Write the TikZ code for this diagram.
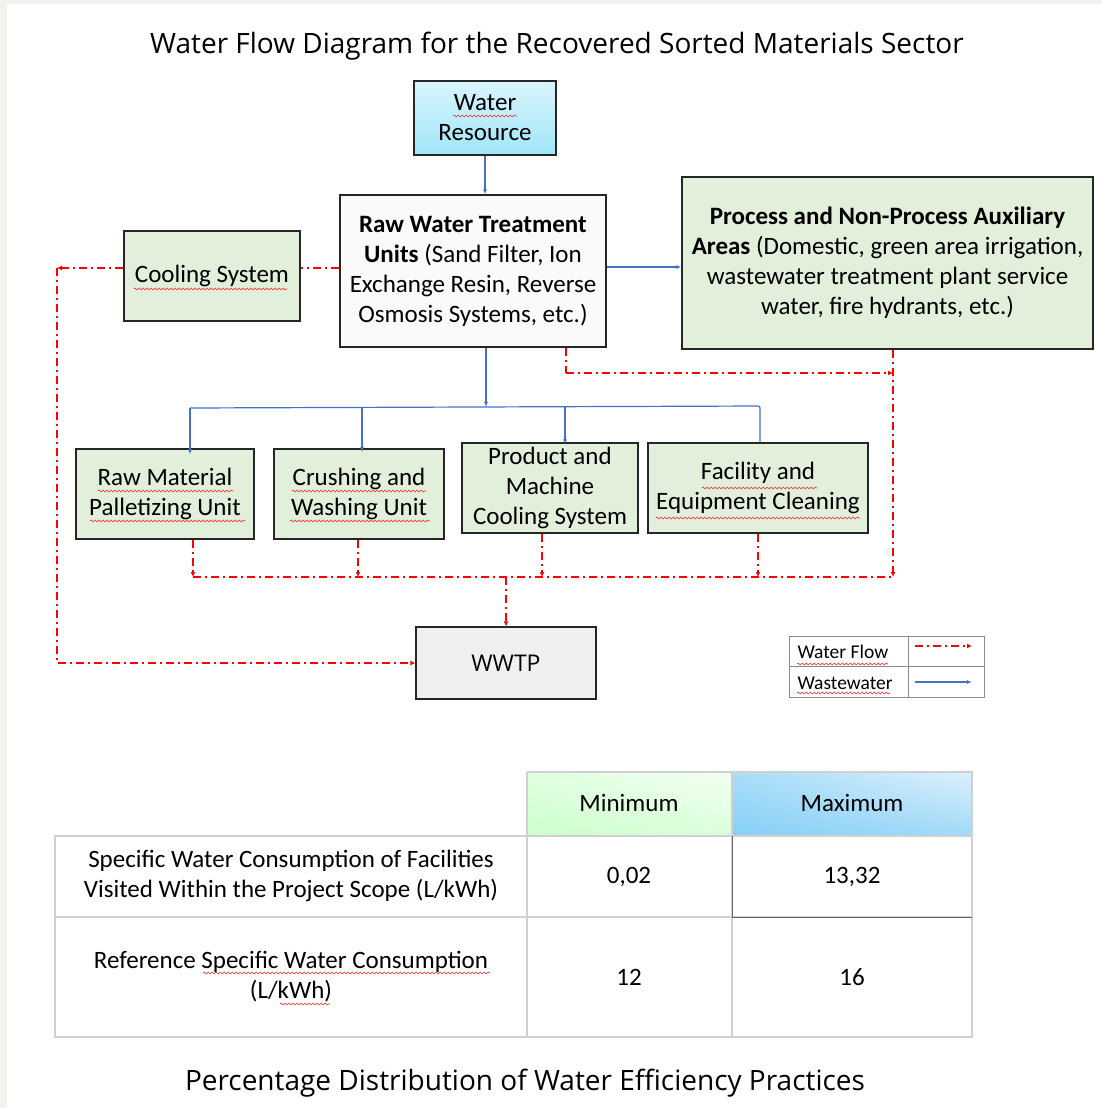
\documentclass[tikz,border=0pt]{standalone}
\usepackage{fontspec}
\setmainfont{Carlito}
\newfontfamily\headfont{Open Sans}
\usetikzlibrary{arrows.meta, positioning, decorations.pathmorphing, calc, shadings}

\definecolor{bgframe}{HTML}{F3F2EE}
\definecolor{boxgreen}{HTML}{E2EFDA}
\definecolor{wwblue}{HTML}{4472C4}
\definecolor{wfred}{HTML}{FF0000}
\definecolor{gridgray}{HTML}{D0D0D0}
\definecolor{skyhi}{HTML}{86D0F6}
\definecolor{skylo}{HTML}{DDF0FC}
\definecolor{restop}{HTML}{DAF5FD}
\definecolor{resbot}{HTML}{9FE6F8}

\tikzset{
  box/.style={draw=black!85, line width=1.3pt, align=center, inner sep=0pt,
    font=\fontsize{25}{30}\selectfont},
  greenbox/.style={box, fill=boxgreen},
  ww/.style={draw=wwblue, line width=1.2pt},
  wwa/.style={ww, -{Latex[length=5pt,width=4pt]}},
  wf/.style={draw=wfred, line width=1.4pt, dash pattern=on 8pt off 4pt on 2pt off 4pt},
  wfa/.style={wf, -{Latex[length=5pt,width=5pt]}},
  squig/.style={draw=red!85, line width=0.6pt, decorate,
    decoration={snake, amplitude=1pt, segment length=4pt}},
  cell/.style={align=center, font=\fontsize{25}{30}\selectfont}
}

\begin{document}
\begin{tikzpicture}[x=1pt, y=-1pt]
    % frame
    \fill[bgframe] (0,0) rectangle (1102,1108);
    \fill[white] (7,4) rectangle (1102,1108);
    \useasboundingbox (0,0) rectangle (1102,1108);

    \node[font=\headfont\fontsize{28}{32}\selectfont] (title) at (557,46)
        {Water Flow Diagram for the Recovered Sorted Materials Sector};

    % boxes
    \node[box, top color=restop, bottom color=resbot, minimum width=142, minimum height=74]
        (res) at (485,118) {Water\\Resource};
    \node[box, fill=black!2, minimum width=266, minimum height=152] (raw) at (473,271)
        {\textbf{Raw Water Treatment}\\\textbf{Units} (Sand Filter, Ion\\Exchange Resin, Reverse\\Osmosis Systems, etc.)};
    \node[greenbox, minimum width=176, minimum height=90] (cool) at (212,276) {Cooling System};
    \node[greenbox, minimum width=411, minimum height=172] (proc) at (887.5,263)
        {\textbf{Process and Non-Process Auxiliary}\\\textbf{Areas} (Domestic, green area irrigation,\\wastewater treatment plant service\\water, fire hydrants, etc.)};
    \node[greenbox, minimum width=178, minimum height=90] (rawmat) at (165,494) {Raw Material\\Palletizing Unit};
    \node[greenbox, minimum width=170, minimum height=90] (crush) at (359,494) {Crushing and\\Washing Unit};
    \node[greenbox, minimum width=176, minimum height=90] (prod) at (550,488) {Product and\\Machine\\Cooling System};
    \node[greenbox, minimum width=220, minimum height=90] (facil) at (758,488) {Facility and\\Equipment Cleaning};
    \node[box, fill=black!6, minimum width=180, minimum height=72, font=\headfont\fontsize{23}{26}\selectfont]
        (wwtp) at (506,663) {WWTP};

    % blue lines
    \coordinate (bm) at (486,407);
    \coordinate (b1) at (190,408);
    \coordinate (b2) at (362,407);
    \coordinate (b3) at (565,407);
    \coordinate (b4) at (760,406);
    \draw[wwa] (res.south) -- (res.south |- raw.north);
    \draw[wwa] (raw.east |- 0,267) -- (proc.west |- 0,267);
    \draw[wwa] (raw.south -| bm) -- (bm);
    \draw[ww, rounded corners=2pt] (b1) -- (b4) -- (b4 |- facil.north);
    \draw[wwa] (b1) -- ([yshift=-6pt]b1 |- rawmat.north);
    \draw[wwa] (b2) -- ([yshift=-4pt]b2 |- crush.north);
    \draw[wwa] (b3) -- ([yshift=-2pt]b3 |- prod.north);

    % red lines
    \coordinate (lft) at (57,268);
    \coordinate (rr) at (566,373);
    \coordinate (pr) at (893,373);
    \coordinate (pb) at (893,577);
    \coordinate (rl) at (193,577);
    \coordinate (rp) at (542,577);
    \draw[wf] (raw.west |- lft) -- (cool.east |- lft);
    \draw[wfa] (cool.west |- lft) -- (lft);
    \draw[wfa] (lft) |- (wwtp.west);
    \draw[wf] (raw.south -| rr) -- (rr);
    \draw[wfa] (rr) -- (pr);
    \draw[wfa] (proc.south -| pb) -- (pb);
    \draw[wf] (rl) -- (pb);
    \draw[wfa] (rawmat.south -| rl) -- (rl);
    \draw[wfa] (crush.south -| 358,0) -- (358,577);
    \draw[wfa] (prod.south -| rp) -- (rp);
    \draw[wfa] (facil.south) -- (facil.south |- rl);
    \draw[wfa] (wwtp.north |- rl) -- (wwtp.north);

    % legend
    \draw[black!45, line width=1pt] (789,636) rectangle (984,697)
        (789,666) -- (984,666) (908,636) -- (908,697);
    \node[anchor=west, font=\fontsize{19.5}{22}\selectfont] (lgflow) at (794,652) {Water Flow};
    \node[anchor=west, font=\fontsize{19.5}{22}\selectfont] (lgww) at (794,683) {Wastewater};
    \draw[wfa] (915,646) -- (972,646);
    \draw[wwa] (915,682) -- (972,682);

    % table
    \shade[lower left=green!20!white, upper right=green!5!white, upper left=green!12!white, lower right=green!14!white]
        (527,772) rectangle (732,836);
    \shade[lower left=skyhi, upper right=skylo, upper left=skyhi!60!skylo, lower right=skyhi!70!skylo]
        (732,772) rectangle (972,836);
    \draw[gridgray, line width=1.2pt] (55,836) rectangle (972,1037)
        (527,772) -- (972,772) -- (972,836)
        (527,772) -- (527,1037) (732,772) -- (732,1037) (55,917) -- (972,917);
    \draw[black!60, line width=1pt] (732,836) -- (732,917) -- (972,917);
    \node[cell] (hmin) at (629,803) {Minimum};
    \node[cell] (hmax) at (852,803) {Maximum};
    \node[cell] (r1) at (291,876) {Specific Water Consumption of Facilities\\Visited Within the Project Scope (L/kWh)};
    \node[cell] (r1min) at (629,877) {0,02};
    \node[cell] (r1max) at (852,877) {13,32};
    \node[cell] (r2) at (291,977) {Reference Specific Water Consumption\\(L/kWh)};
    \node[cell] (r2min) at (629,977) {12};
    \node[cell] (r2max) at (852,977) {16};

    \node[font=\headfont\fontsize{28}{32}\selectfont] (caption) at (525,1083)
        {Percentage Distribution of Water Efficiency Practices};

    % spelling marks
    \foreach \a/\b/\y in {453/517/116, 134/287/289, 98/233/491, 90/245/521, 292/426/491,
        290/430/521, 702/817/488, 656/860/518, 797/888/664, 797/890/693, 203/490/973, 280/330/1004}
        \draw[squig] (\a,\y) -- (\b,\y);
\end{tikzpicture}
\end{document}
